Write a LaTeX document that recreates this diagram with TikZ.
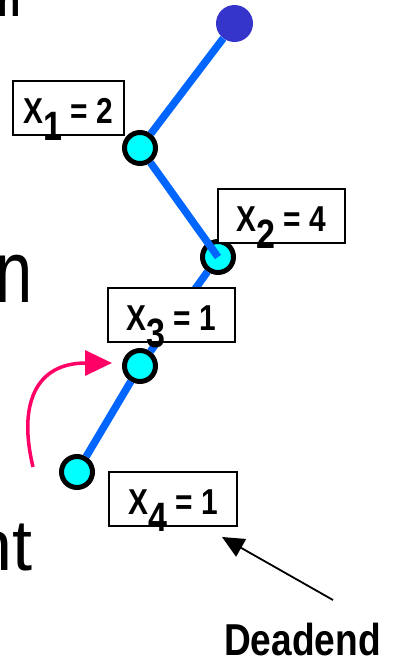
\documentclass[tikz,border=0pt]{standalone}
\usepackage{fontspec}
\setmainfont{Liberation Sans}
\newfontfamily\nbf{Liberation Sans}[FakeStretch=0.83]
\usetikzlibrary{arrows.meta}
\definecolor{lineblue}{HTML}{0066FF}
\definecolor{topblue}{HTML}{3535CC}
\definecolor{statecyan}{HTML}{00FFFF}
\definecolor{backpink}{HTML}{FF0066}
\newcommand\xlab[2]{X\smash{\raisebox{-17pt}{\fontsize{41}{41}\selectfont #1}} = #2}
\begin{document}
\begin{tikzpicture}[x=1pt,y=-1pt,
  bar/.style={draw=lineblue,line width=7.5pt},
  state/.style={circle,draw=black,fill=statecyan,line width=5pt,minimum size=31pt,inner sep=0pt},
  lab/.style={draw=black,line width=1.5pt,fill=white,minimum height=54pt,inner sep=0pt,
    font={\nbf\bfseries\fontsize{36}{40}\selectfont},text height=30.8pt,text depth=0pt},
  cut/.style={anchor=base west,inner sep=0pt}]
\useasboundingbox (0,0) rectangle (395,659);
\clip (0,0) rectangle (395,659);
% cut-off text at the left
\node[cut,font={\nbf\bfseries\fontsize{46}{48}\selectfont}] (t1) at (-3,16) {n};
\node[cut,font={\fontsize{88}{90}\selectfont}] (t2) at (-4.4,302) {\scalebox{0.76}[1]{n}};
\node[cut,font={\fontsize{72}{76}\selectfont}] (t3) at (-28,570) {nt};
% tree nodes
\node[circle,fill=topblue,minimum size=37pt,inner sep=0pt] (top) at (234.5,23.5) {};
\node[state] (n1) at (140,148) {};
\node[state] (n2) at (218,257) {};
\node[state] (n3) at (140,366) {};
\node[state] (n4) at (77,472) {};
% edges
\draw[bar] (top) -- (n1);
\draw[bar] (n1) -- (n2.center);
\draw[bar] (n2) -- (n3);
\draw[bar] (n3) -- (n4);
% labels
\node[lab,minimum width=111pt] (b1) at (68.5,108) {\xlab{1}{2}};
\node[lab,minimum width=127pt] (b2) at (281.5,216) {\xlab{2}{4}};
\node[lab,minimum width=127pt] (b3) at (171.5,315) {\xlab{3}{1}};
\node[lab,minimum width=128pt] (b4) at (173,499) {\xlab{4}{1}};
% backtrack arrow
\coordinate (ps) at (33,467);
\coordinate (pe) at (112,363);
\draw[draw=backpink,line width=3.5pt,-{Triangle[length=27pt,width=25pt]}] (ps) .. controls (18,405) and (35,363) .. (pe);
% deadend arrow
\node[cut,font={\nbf\bfseries\fontsize{44.7}{48}\selectfont}] (dead) at (224,655) {Deadend};
\coordinate (dtail) at (333,600);
\coordinate (dtip) at (222,537);
\draw[line width=1.8pt,-{Triangle[length=22pt,width=20pt]}] (dtail) -- (dtip);
\end{tikzpicture}
\end{document}
